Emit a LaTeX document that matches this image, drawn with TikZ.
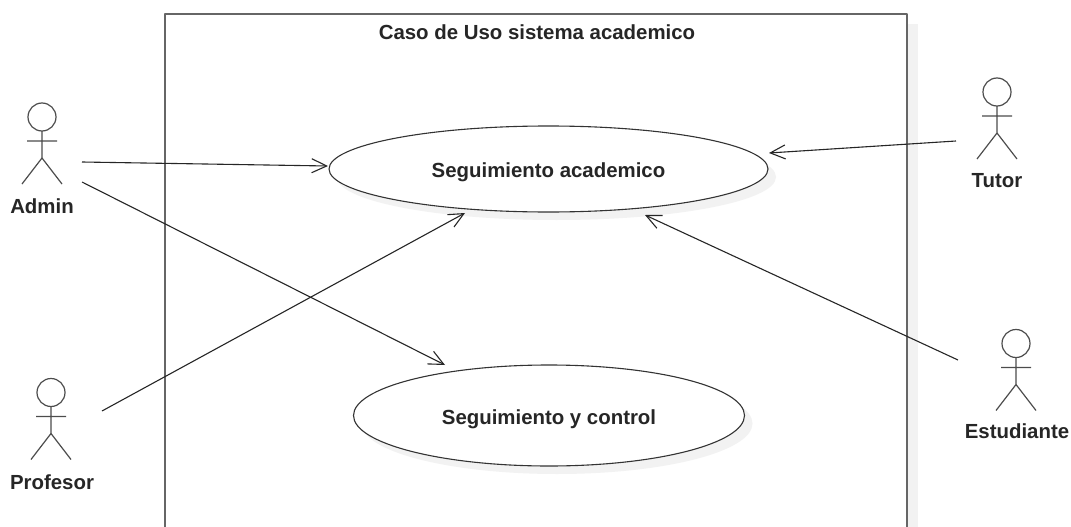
\documentclass[tikz,border=0pt]{standalone}
\usepackage{fontspec}
\setmainfont{Liberation Sans}
\usetikzlibrary{shapes.geometric,arrows.meta,positioning,shadows}

\begin{document}
\begin{tikzpicture}[x=1pt,y=-1pt,line join=round,
  every node/.style={font=\fontsize{20.4}{24}\selectfont\bfseries,text=black!85},
  usecase/.style={draw=black!80,line width=1.1pt,ellipse,fill=white,inner sep=0pt,outer sep=0pt,text depth=0pt,
    drop shadow={shadow xshift=8pt,shadow yshift=-8pt,fill=black!5,opacity=1}},
  link/.style={draw=black!85,line width=1.1pt,-{Straight Barb[length=15pt,width=14pt,line width=1.1pt]}},
  pics/actor/.style={code={
    \draw[black!70,line width=1.2pt] (0,-24) circle (14pt);
    \draw[black!70,line width=1.2pt] (0,-10) -- (0,17) (-15,0) -- (15,0) (-20,43) -- (0,17) -- (20,43);
  }}]
  \useasboundingbox (0,0) rectangle (1071,527);
  \clip (0,0) rectangle (1071,527);

  \fill[black!5] (908,24) rectangle (918,540);
  \node (frame) [draw=black!60,line width=1.7pt,fill=white,minimum width=742pt,minimum height=520pt,anchor=north west,outer sep=0pt] at (165,14) {};
  \node (title) at (537,32) {Caso de Uso sistema academico};

  \node (academico) [usecase,text height=17pt,minimum width=439pt,minimum height=86pt] at (548.5,169) {Seguimiento academico};
  \node (control) [usecase,text height=18.5pt,minimum width=391pt,minimum height=101pt] at (549,415.5) {Seguimiento y control};

  % actors
  \pic at (42,141) {actor};
  \node (admin) at (42,206) {Admin};
  \pic at (51,416.5) {actor};
  \node (profesor) at (52,482) {Profesor};
  \pic at (997,116) {actor};
  \node (tutor) at (997,181) {Tutor};
  \pic at (1016,367.5) {actor};
  \node (estudiante) at (1017,431) {Estudiante};

  \coordinate (adminA) at (82,162);
  \coordinate (adminB) at (82,182);
  \coordinate (profesorA) at (102,411);
  \coordinate (tutorA) at (956,141);
  \coordinate (estudianteA) at (958,360);
  \coordinate (academicoA) at (328,166);
  \coordinate (academicoB) at (465,213);
  \coordinate (academicoC) at (769,153);
  \coordinate (academicoD) at (645,215);
  \coordinate (controlA) at (445,365);

  \draw[link] (adminA) -- (academicoA);
  \draw[link] (adminB) -- (controlA);
  \draw[link] (profesorA) -- (academicoB);
  \draw[link] (tutorA) -- (academicoC);
  \draw[link] (estudianteA) -- (academicoD);
\end{tikzpicture}
\end{document}
